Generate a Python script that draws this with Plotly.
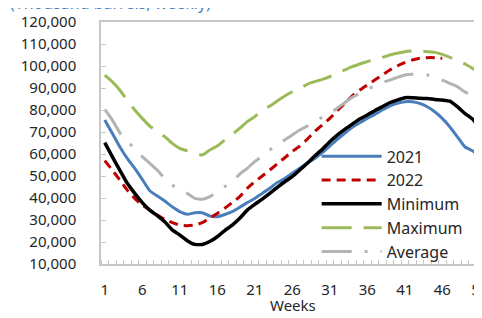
import plotly.graph_objects as go

weeks = list(range(1, 52))

y2021 = [75.5, 69.4, 63.3, 58.0, 53.5, 48.5, 43.3, 40.9, 38.6, 36.0,
         33.8, 32.6, 33.3, 33.3, 31.8, 31.5, 32.5, 33.8, 35.8, 37.9,
         39.8, 42.1, 44.4, 47.0, 48.9, 51.2, 53.5, 55.8, 58.0, 60.6,
         63.6, 66.7, 69.4, 72.1, 74.2, 76.2, 78.0, 80.0, 81.8, 83.0,
         83.8, 83.8, 83.0, 81.5, 79.2, 76.2, 72.4, 67.9, 63.3, 61.5, 59.0]

y2022 = [57.0, 52.7, 48.2, 43.6, 39.8, 36.8, 34.5, 32.3, 30.3, 28.8,
         27.7, 27.4, 27.7, 28.8, 30.8, 33.0, 35.3, 37.9, 40.6, 44.4,
         47.4, 50.0, 52.7, 55.5, 58.3, 61.1, 63.6, 66.7, 70.2, 73.2,
         76.2, 79.7, 83.0, 86.4, 89.1, 91.4, 93.6, 95.9, 98.2, 100.0,
         101.5, 102.7, 103.5, 103.8, 103.8, 103.5]

y_min = [65.2, 58.8, 52.7, 46.7, 42.1, 37.9, 34.5, 32.0, 29.2, 25.5,
         23.2, 20.6, 18.9, 18.9, 20.2, 22.4, 25.2, 27.7, 30.8, 34.5,
         37.1, 39.5, 42.1, 44.8, 47.4, 49.7, 52.7, 55.8, 59.1, 62.1,
         65.6, 68.6, 71.2, 73.6, 75.9, 77.7, 79.7, 81.5, 83.3, 84.5,
         85.6, 85.6, 85.3, 85.2, 84.8, 84.5, 84.0, 81.5, 78.5, 76.0, 72.0]

y_max = [95.9, 92.9, 89.1, 84.5, 80.0, 76.2, 72.7, 70.2, 67.9, 64.8,
         62.6, 61.5, 60.6, 59.5, 61.8, 63.6, 66.4, 68.9, 71.7, 74.7,
         77.0, 79.7, 81.8, 84.1, 86.4, 88.3, 89.8, 91.7, 92.9, 93.9,
         95.2, 96.7, 98.2, 99.7, 100.9, 102.0, 103.0, 103.9, 105.0, 105.8,
         106.5, 106.8, 106.8, 106.5, 106.2, 105.3, 103.9, 102.7, 101.0, 99.0, 97.0]

y_avg = [80.3, 75.5, 69.7, 65.6, 62.6, 58.8, 55.8, 52.7, 48.9, 45.9,
         43.6, 42.1, 39.8, 39.4, 40.6, 42.9, 45.2, 47.4, 50.9, 53.5,
         56.5, 59.1, 61.8, 64.5, 66.4, 68.6, 70.9, 72.7, 74.7, 76.7,
         78.5, 80.8, 83.3, 85.8, 87.6, 89.4, 90.9, 92.4, 93.6, 94.8,
         95.9, 96.2, 96.2, 95.9, 95.2, 93.6, 92.1, 90.6, 88.3, 86.4, 84.5]

series = [
    ("2021", y2021, "#4a7ebb", "solid", 3),
    ("2022", y2022, "#c00000", "9px,6px", 3),
    ("Minimum", y_min, "#000000", "solid", 3.5),
    ("Maximum", y_max, "#9bbb59", "30px,12px", 3),
    ("Average", y_avg, "#b3b3b3", "30px,13px,3px,13px", 3),
]

x_labels = [1, 6, 11, 16, 21, 26, 31, 36, 41, 46, 51]
y_ticks = list(range(10000, 120001, 10000))

fig = go.Figure()
for name, vals, color, dash, w in series:
    fig.add_trace(go.Scatter(
        x=weeks[:len(vals)], y=[v * 1000 for v in vals], name=name,
        mode="lines", line=dict(color=color, width=w, dash=dash, shape="spline", smoothing=0.4),
    ))

font = "Noto Sans, Open Sans, sans-serif"
fig.update_layout(
    width=482, height=318,
    margin=dict(l=93, r=8, t=14, b=62, autoexpand=False),
    paper_bgcolor="white", plot_bgcolor="white",
    font=dict(family=font, size=15, color="#262626"),
    showlegend=True,
    legend=dict(x=0.566, y=0.515, xanchor="left", yanchor="top",
                bgcolor="rgba(0,0,0,0)", font=dict(size=16, color="#262626"),
                itemwidth=60, tracegroupgap=0),
    annotations=[
        dict(text="(Thousand barrels, weekly)", xref="paper", yref="paper",
             x=-0.244, y=1.025, xanchor="left", yanchor="bottom",
             showarrow=False, font=dict(size=16, color="#4a7ebb")),
        dict(text="Weeks", xref="paper", yref="paper",
             x=0.504, y=-0.17, xanchor="center", yanchor="middle",
             showarrow=False, font=dict(size=15, color="#262626")),
    ],
)
fig.update_xaxes(
    range=[0.5, 51.3], tickvals=x_labels, ticktext=[str(v) for v in x_labels],
    ticks="", showgrid=False, zeroline=False, automargin=False,
    ticklabeloverflow="allow",
    showline=True, linecolor="#c8c8c8", linewidth=1.5, mirror=True,
    ticklabelstandoff=11,
    minor=dict(tickvals=[k + 0.5 for k in range(0, 53)], ticks="inside", ticklen=4,
               tickcolor="#c8c8c8", showgrid=False),
)
fig.update_yaxes(
    range=[10000, 120000], tickvals=y_ticks, tickformat=",", ticks="inside", ticklen=5,
    tickcolor="#c8c8c8", showgrid=False, zeroline=False, automargin=False,
    showline=True, linecolor="#c8c8c8", linewidth=1.5, mirror=True,
    ticklabelstandoff=20,
)

fig.write_html("out.html")
